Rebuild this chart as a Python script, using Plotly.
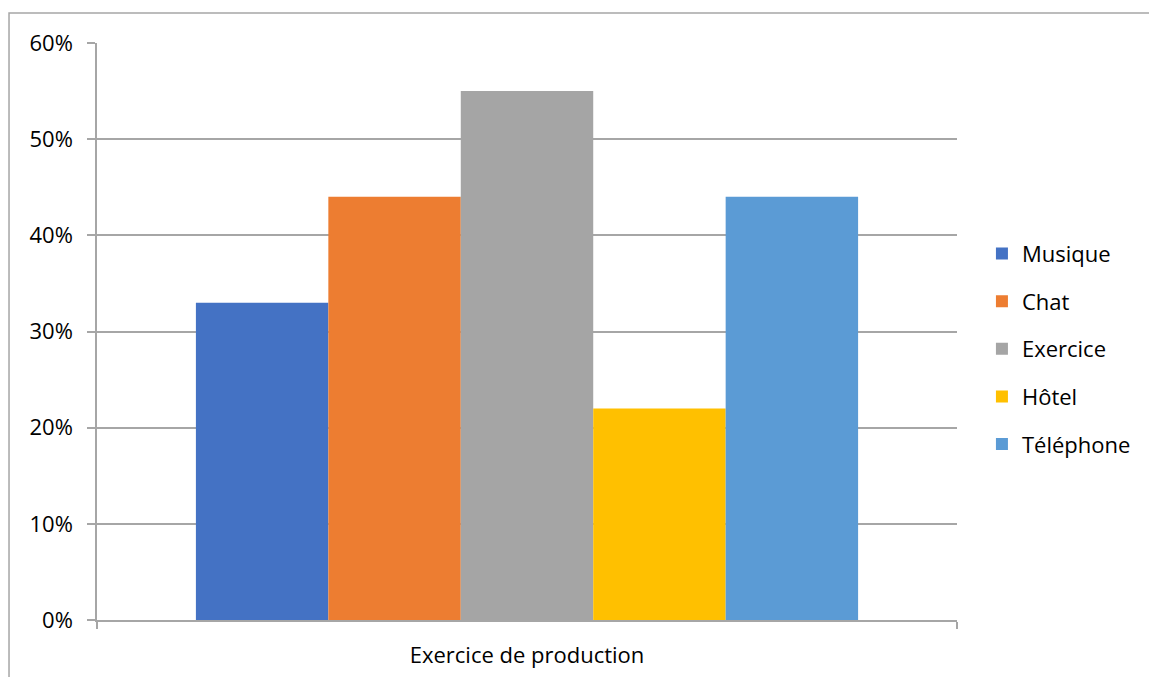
import plotly.graph_objects as go

category = ["Exercice de production"]
series_names = ["Musique", "Chat", "Exercice", "Hôtel", "Téléphone"]
series_values = [0.33, 0.44, 0.55, 0.22, 0.44]
colors = ["#4472C4", "#ED7D31", "#A5A5A5", "#FFC000", "#5B9BD5"]

FONT = "Open Sans"
FS = 22

fig = go.Figure()
for i, (name, val, col) in enumerate(zip(series_names, series_values, colors)):
    fig.add_trace(go.Bar(
        x=category, y=[val], name=name, marker_color=col,
        marker_line_width=0, legendgroup=f"g{i}",
    ))

fig.update_layout(
    width=1149, height=677,
    margin=dict(l=97, r=192, t=43, b=57),
    paper_bgcolor="white", plot_bgcolor="white",
    barmode="group", bargap=0.23, bargroupgap=0,
    font=dict(family=FONT, size=FS, color="#000000"),
    legend=dict(
        x=1.029, xanchor="left", y=0.47, yanchor="middle",
        traceorder="grouped", tracegroupgap=16,
        font=dict(family=FONT, size=FS, color="#000000"),
        itemwidth=30,
    ),
    shapes=[dict(
        type="rect", xref="paper", yref="paper",
        x0=-0.1023, x1=1.23, y0=-0.11, y1=1.052,
        line=dict(color="#a6a6a6", width=1.5), fillcolor="rgba(0,0,0,0)",
        layer="below",
    )],
)

fig.update_xaxes(
    type="category", tickson="boundaries", ticks="outside", ticklen=7,
    tickcolor="#a6a6a6", tickwidth=1.5,
    showline=True, linecolor="#a6a6a6", linewidth=1.5,
    showgrid=False, ticklabelstandoff=15, automargin=False,
)
fig.update_yaxes(
    range=[0, 0.6], dtick=0.1, tickformat=".0%",
    ticks="outside", ticklen=8, tickcolor="#a6a6a6", tickwidth=1.5,
    showline=True, linecolor="#a6a6a6", linewidth=1.5,
    showgrid=True, gridcolor="#a6a6a6", gridwidth=1.5,
    zeroline=False, ticklabelstandoff=10,
)

fig.write_html("out.html")
